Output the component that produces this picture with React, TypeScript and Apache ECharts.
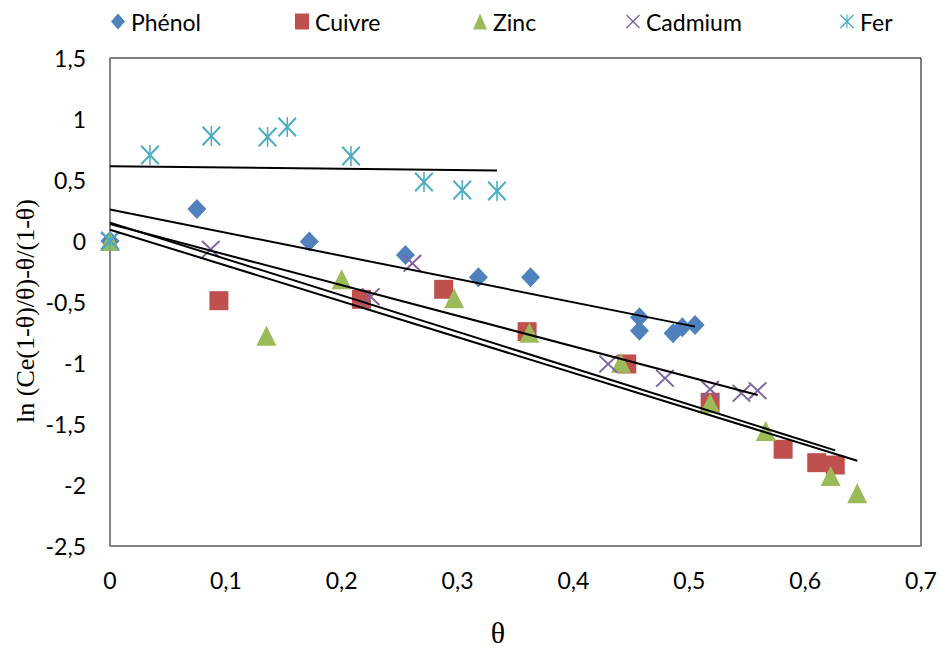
import React, { useEffect, useRef } from "react";
import * as echarts from "echarts";

// ---- data ----
const seriesNames = ["Phénol", "Cuivre", "Zinc", "Cadmium", "Fer"];

const phenolTheta = [0, 0.075, 0.172, 0.255, 0.318, 0.363, 0.457, 0.457, 0.486, 0.494, 0.505];
const phenolValue = [0, 0.262, -0.005, -0.115, -0.298, -0.298, -0.625, -0.735, -0.757, -0.707, -0.689];

const cuivreTheta = [0.094, 0.217, 0.288, 0.36, 0.446, 0.518, 0.581, 0.61, 0.626];
const cuivreValue = [-0.489, -0.478, -0.396, -0.743, -1.008, -1.322, -1.707, -1.817, -1.836];

const zincTheta = [0, 0.135, 0.2, 0.297, 0.362, 0.441, 0.518, 0.566, 0.622, 0.645];
const zincValue = [0, -0.776, -0.314, -0.47, -0.752, -0.997, -1.33, -1.557, -1.926, -2.068];

const cadmiumTheta = [0, 0.087, 0.225, 0.261, 0.43, 0.479, 0.518, 0.545, 0.559];
const cadmiumValue = [0, -0.068, -0.456, -0.183, -1.008, -1.125, -1.216, -1.248, -1.227];

const ferTheta = [0, 0.0345, 0.0875, 0.136, 0.153, 0.208, 0.271, 0.304, 0.334];
const ferValue = [0, 0.705, 0.861, 0.852, 0.934, 0.697, 0.484, 0.418, 0.41];

const colors = ["#4F81BD", "#C0504D", "#9BBB59", "#8064A2", "#4BACC6"];

const X_PATH =
  "path://M0,1.5 L1.5,0 L10,8.5 L18.5,0 L20,1.5 L11.5,10 L20,18.5 L18.5,20 L10,11.5 L1.5,20 L0,18.5 L8.5,10 Z";
const STAR_PATH =
  "path://M0,1.5 L1.5,0 L10,8.5 L18.5,0 L20,1.5 L11.5,10 L20,18.5 L18.5,20 L10,11.5 L1.5,20 L0,18.5 L8.5,10 Z M9.2,0 L10.8,0 L10.8,20 L9.2,20 Z";

const symbols = ["diamond", "rect", "triangle", X_PATH, STAR_PATH];
const symbolSizes: any[] = [[19, 20], 19, [20, 20], [19, 18], [19, 20]];
const legendLefts = [106, 290, 468, 621, 835];

function pairs(xs: number[], ys: number[]) {
  return xs.map((x, i) => [x, ys[i]]);
}

// least-squares trendline, drawn from θ = 0 to the last θ of the series
function trend(xs: number[], ys: number[]) {
  const n = xs.length;
  const mx = xs.reduce((a, b) => a + b, 0) / n;
  const my = ys.reduce((a, b) => a + b, 0) / n;
  let sxy = 0;
  let sxx = 0;
  for (let i = 0; i < n; i++) {
    sxy += (xs[i] - mx) * (ys[i] - my);
    sxx += (xs[i] - mx) * (xs[i] - mx);
  }
  const m = sxy / sxx;
  const b = my - m * mx;
  const xmax = Math.max(...xs);
  return [
    [0, b],
    [xmax, b + m * xmax],
  ];
}

const fmt = (v: number) => String(Number(v.toFixed(2))).replace(".", ",");

export default function App() {
  const ref = useRef<HTMLDivElement>(null);

  useEffect(() => {
    document.body.style.margin = "0";
    const chart = echarts.init(ref.current!, undefined, { renderer: "svg" });
    const all = [
      [phenolTheta, phenolValue],
      [cuivreTheta, cuivreValue],
      [zincTheta, zincValue],
      [cadmiumTheta, cadmiumValue],
      [ferTheta, ferValue],
    ];
    const scatter = all.map(([xs, ys], i) => ({
      name: seriesNames[i],
      type: "scatter",
      data: pairs(xs, ys),
      symbol: symbols[i],
      symbolSize: symbolSizes[i],
      itemStyle: { color: colors[i], opacity: 1 },
      z: 2 + i * 0.01,
    }));
    const lines = all.map(([xs, ys], i) => ({
      name: "trend-" + seriesNames[i],
      type: "line",
      data: trend(xs, ys),
      showSymbol: false,
      symbol: "none",
      lineStyle: { color: "#000", width: 2 },
      silent: true,
      z: 5,
    }));
    const legends = seriesNames.map((name, i) => ({
      data: [name],
      left: legendLefts[i],
      top: 5,
      itemWidth: 14,
      itemHeight: 16,
      itemGap: 0,
      textStyle: { fontFamily: "Lato", fontSize: 23, color: "#000", padding: [0, 0, 0, 1] },
      selectedMode: false,
    }));

    chart.setOption({
      animation: false,
      backgroundColor: "#fff",
      legend: legends,
      grid: {
        left: 110,
        right: 19,
        top: 58,
        bottom: 107,
        show: true,
        borderColor: "#000",
        borderWidth: 1,
        backgroundColor: "transparent",
      },
      xAxis: {
        type: "value",
        min: 0,
        max: 0.7,
        interval: 0.1,
        axisLine: { show: true, onZero: false, lineStyle: { color: "#868686", width: 1.5 } },
        axisTick: { show: false },
        splitLine: { show: false },
        axisLabel: {
          formatter: fmt,
          fontFamily: "Lato",
          fontSize: 23,
          color: "#000",
          margin: 22,
        },
      },
      yAxis: {
        type: "value",
        min: -2.5,
        max: 1.5,
        interval: 0.5,
        axisLine: { show: true, onZero: false, lineStyle: { color: "#868686", width: 1.5 } },
        axisTick: { show: false },
        splitLine: { show: false },
        axisLabel: {
          formatter: fmt,
          fontFamily: "Lato",
          fontSize: 23,
          color: "#000",
          margin: 24,
        },
      },
      graphic: [
        {
          type: "text",
          x: 25,
          y: 311,
          rotation: Math.PI / 2,
          style: {
            text: "ln (Ce(1-θ)/θ)-θ/(1-θ)",
            fontFamily: "Liberation Serif",
            fontSize: 26,
            fill: "#000",
            textAlign: "center",
            textVerticalAlign: "middle",
          },
        },
        {
          type: "text",
          x: 498,
          y: 632,
          style: {
            text: "θ",
            fontFamily: "Liberation Serif",
            fontSize: 30,
            fill: "#000",
            textAlign: "center",
            textVerticalAlign: "middle",
          },
        },
      ],
      series: [...scatter, ...lines],
    });
    return () => chart.dispose();
  }, []);

  return <div ref={ref} style={{ width: 940, height: 653 }} />;
}
